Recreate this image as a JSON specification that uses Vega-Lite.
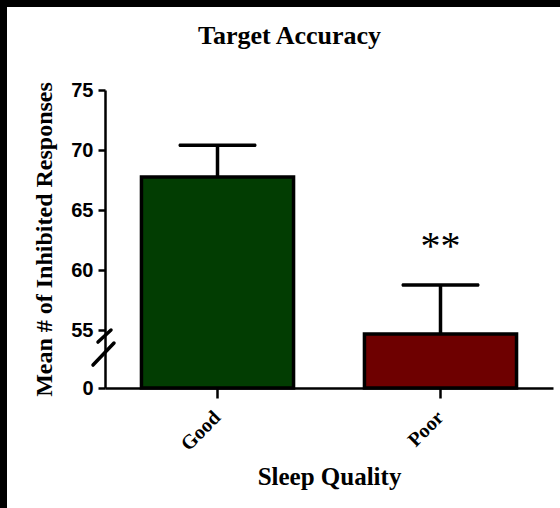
{
  "$schema": "https://vega.github.io/schema/vega-lite/v6.json",
  "width": 553,
  "height": 501,
  "autosize": {"type": "none"},
  "padding": {"left": 7, "top": 7, "right": 0, "bottom": 0},
  "background": "black",
  "config": {"view": {"fill": "white", "stroke": null}},
  "title": {
    "text": "Target Accuracy",
    "font": "Liberation Serif",
    "fontSize": 26,
    "fontWeight": "bold",
    "color": "black",
    "anchor": "middle",
    "frame": "group",
    "baseline": "alphabetic",
    "offset": 0,
    "dy": 63,
    "dx": 6
  },
  "data": {
    "values": [
      {"quality": "Good", "mean": 67.75, "upper": 70.4, "sig": ""},
      {"quality": "Poor", "mean": 54.67, "upper": 58.75, "sig": "**"}
    ]
  },
  "resolve": {"scale": {"x": "independent"}},
  "layer": [
    {
      "encoding": {
        "x": {
          "field": "quality",
          "type": "nominal",
          "sort": ["Good", "Poor"],
          "scale": {"range": [98, 546], "paddingInner": 0.318, "paddingOuter": 0.1635},
          "axis": {
            "title": "Sleep Quality",
            "offset": -120,
            "labelAngle": -45,
            "labelAlign": "right",
            "labelBaseline": "middle",
            "labelFont": "Liberation Serif",
            "labelFontSize": 20,
            "labelFontWeight": "bold",
            "labelColor": "black",
            "labelPadding": 16,
            "tickSize": 10,
            "tickWidth": 2.5,
            "tickColor": "black",
            "domainWidth": 2.5,
            "domainColor": "black",
            "titleFont": "Liberation Serif",
            "titleFontSize": 25,
            "titleFontWeight": "bold",
            "titleColor": "black",
            "titlePadding": 10,
            "grid": false
          }
        }
      },
      "layer": [
        {
          "mark": {"type": "bar", "stroke": "black", "strokeWidth": 3.5, "strokeJoin": "miter"},
          "encoding": {
            "y": {
              "field": "mean",
              "type": "quantitative",
              "scale": {"domain": [0, 53, 75], "range": [381, 347, 83], "zero": false, "nice": false},
              "axis": {
                "title": "Mean # of Inhibited Responses",
                "values": [0, 55, 60, 65, 70, 75],
                "offset": -98,
                "grid": false,
                "labelFont": "Liberation Sans",
                "labelFontSize": 20,
                "labelFontWeight": "bold",
                "labelColor": "black",
                "labelPadding": 5,
                "labelFlush": false,
                "labelOverlap": false,
                "tickSize": 7,
                "tickWidth": 2.5,
                "tickColor": "black",
                "domainWidth": 2.5,
                "domainColor": "black",
                "titleFont": "Liberation Serif",
                "titleFontSize": 24,
                "titleFontWeight": "bold",
                "titleColor": "black",
                "titlePadding": 14
              }
            },
            "color": {
              "field": "quality",
              "type": "nominal",
              "scale": {"domain": ["Good", "Poor"], "range": ["#023d02", "#6e0000"]},
              "legend": null
            }
          }
        },
        {
          "mark": {"type": "rule", "color": "black", "strokeWidth": 3.5},
          "encoding": {
            "y": {"field": "mean", "type": "quantitative"},
            "y2": {"field": "upper"}
          }
        },
        {
          "mark": {"type": "tick", "color": "black", "size": 78, "thickness": 3.5, "cornerRadius": 1.5, "opacity": 1},
          "encoding": {
            "y": {"field": "upper", "type": "quantitative"}
          }
        },
        {
          "transform": [{"filter": "datum.sig != ''"}],
          "mark": {"type": "text", "font": "Liberation Serif", "fontSize": 40, "color": "black", "baseline": "alphabetic", "dy": -26},
          "encoding": {
            "y": {"field": "upper", "type": "quantitative"},
            "text": {"field": "sig"}
          }
        }
      ]
    },
    {
      "data": {"values": [{"mark": "axis break"}]},
      "mark": {
        "type": "point",
        "shape": "M -0.35 -0.4 L 0.3 -1 M -0.6 0.75 L 0.45 -0.35",
        "size": 1600,
        "stroke": "black",
        "strokeWidth": 3.5,
        "strokeCap": "round",
        "filled": false,
        "opacity": 1
      },
      "encoding": {
        "x": {"datum": 0, "type": "quantitative", "scale": {"domain": [0, 1], "range": [98, 546]}, "axis": null},
        "y": {"datum": 53.33, "type": "quantitative"}
      }
    }
  ]
}
